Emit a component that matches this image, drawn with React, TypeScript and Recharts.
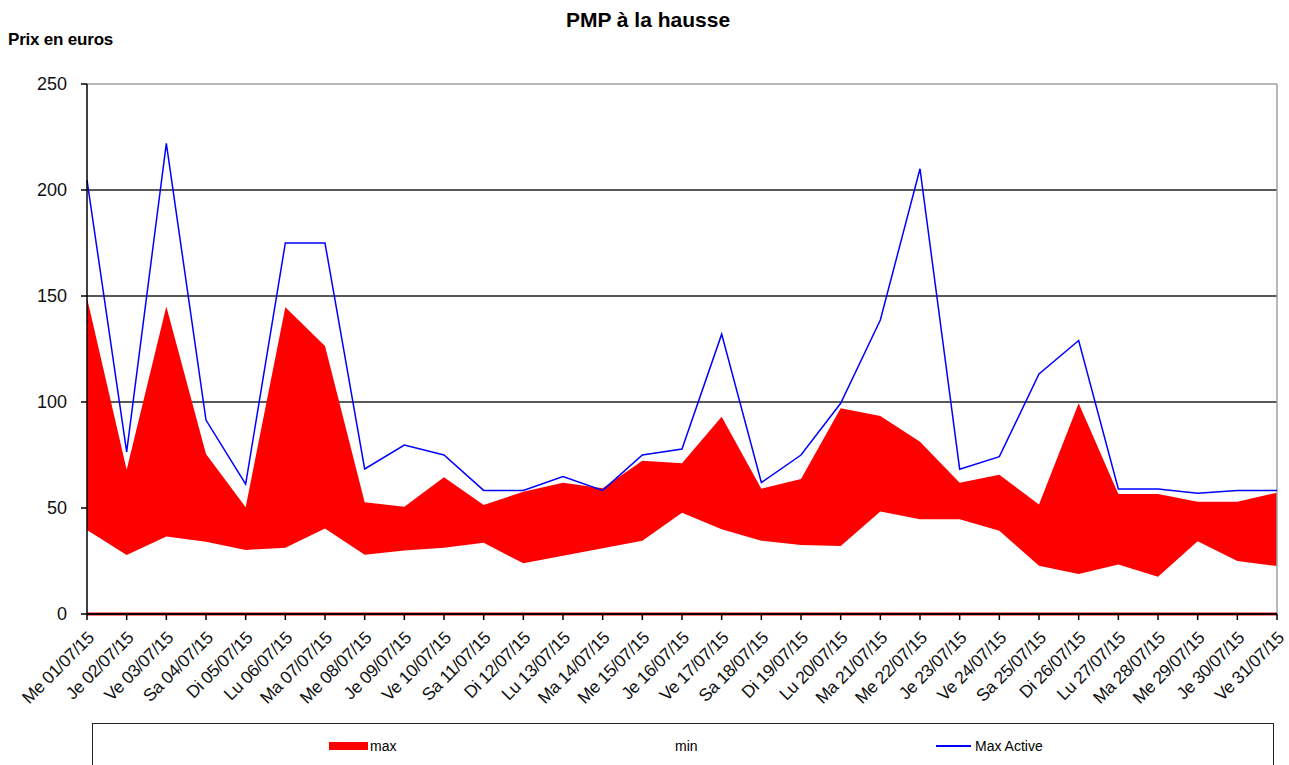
import {
  ComposedChart,
  Area,
  Line,
  XAxis,
  YAxis,
  CartesianGrid,
  ReferenceLine,
} from "recharts";

const days = [
  "Me 01/07/15", "Je 02/07/15", "Ve 03/07/15", "Sa 04/07/15", "Di 05/07/15",
  "Lu 06/07/15", "Ma 07/07/15", "Me 08/07/15", "Je 09/07/15", "Ve 10/07/15",
  "Sa 11/07/15", "Di 12/07/15", "Lu 13/07/15", "Ma 14/07/15", "Me 15/07/15",
  "Je 16/07/15", "Ve 17/07/15", "Sa 18/07/15", "Di 19/07/15", "Lu 20/07/15",
  "Ma 21/07/15", "Me 22/07/15", "Je 23/07/15", "Ve 24/07/15", "Sa 25/07/15",
  "Di 26/07/15", "Lu 27/07/15", "Ma 28/07/15", "Me 29/07/15", "Je 30/07/15",
  "Ve 31/07/15",
];

const maxVals = [
  149, 68, 145, 75.5, 50.3, 144.7, 126.4, 52.7, 50.6, 64.5, 51.4, 57.7, 61.9,
  59.3, 72.3, 71.1, 93.1, 59.1, 63.7, 97, 93.4, 81.3, 61.9, 65.7, 51.6, 99.4,
  56.6, 56.6, 53, 53, 57.2,
];

const minVals = [
  39.6, 27.8, 36.5, 34.1, 30.2, 31.3, 40.3, 28, 29.9, 31.3, 33.6, 23.9, 27.5,
  31, 34.6, 47.8, 40, 34.6, 32.5, 32.1, 48.4, 44.7, 44.7, 39.3, 22.8, 18.9,
  23.4, 17.6, 34.3, 25, 22.6,
];

const maxActive = [
  204.7, 76.5, 222, 91.5, 61.3, 175, 175, 68.4, 79.7, 75, 58.3, 58.3, 64.8,
  58.3, 75, 77.8, 132, 62, 75, 99.4, 138.7, 210, 68.3, 74.2, 113.2, 129, 59,
  59, 57, 58.2, 58.2,
];

const yTicks = [0, 50, 100, 150, 200, 250];

const data = days.map((day, i) => ({
  day,
  max: maxVals[i],
  min: minVals[i],
  active: maxActive[i],
}));

const FONT = '"Liberation Sans", Arial, sans-serif';

// rotated date labels, anchored at their end just under each tick
function DayTick({ x, y, payload }: any) {
  const px = x + 8;
  const py = y + 17;
  return (
    <text
      x={px}
      y={py}
      textAnchor="end"
      transform={`rotate(-45, ${px}, ${py})`}
      fontSize={17.5}
      fontFamily={FONT}
      letterSpacing={-0.4}
      fill="#111"
    >
      {payload.value}
    </text>
  );
}

export default function App() {
  return (
    <div
      style={{
        position: "absolute",
        left: 0,
        top: 0,
        width: 1289,
        height: 765,
        background: "#fff",
        overflow: "hidden",
        fontFamily: FONT,
      }}
    >
      <div
        style={{
          position: "absolute",
          left: 0,
          width: 1296,
          top: 9,
          textAlign: "center",
          fontSize: 21,
          lineHeight: "21px",
          fontWeight: "bold",
          color: "#000",
        }}
      >
        PMP à la hausse
      </div>
      <div
        style={{
          position: "absolute",
          left: 8,
          top: 31,
          fontSize: 17,
          lineHeight: "17px",
          fontWeight: "bold",
          letterSpacing: -0.2,
          color: "#000",
        }}
      >
        Prix en euros
      </div>

      <div style={{ position: "absolute", left: 0, top: 0 }}>
        <ComposedChart
          width={1289}
          height={765}
          data={data}
          margin={{ top: 84, right: 12, bottom: 51, left: 27 }}
        >
          <CartesianGrid
            vertical={false}
            horizontalValues={[50, 100, 150, 200]}
            stroke="#222"
            strokeWidth={1.5}
          />
          <XAxis
            dataKey="day"
            scale="point"
            padding={{ left: 0, right: 0 }}
            interval={0}
            height={100}
            tickSize={6}
            tick={<DayTick />}
            axisLine={{ stroke: "#000", strokeWidth: 1.5 }}
            tickLine={{ stroke: "#000", strokeWidth: 1.5 }}
          />
          <YAxis
            domain={[0, 250]}
            ticks={yTicks}
            width={60}
            tickSize={6}
            tickMargin={14}
            interval={0}
            tick={{ fontSize: 18, fill: "#111", fontFamily: FONT }}
            axisLine={{ stroke: "#000", strokeWidth: 1.5 }}
            tickLine={{ stroke: "#000", strokeWidth: 1.5 }}
          />
          <ReferenceLine y={250} stroke="#a0a0a0" strokeWidth={1.5} />
          <ReferenceLine x={days[days.length - 1]} stroke="#a0a0a0" strokeWidth={1.5} />
          <Area
            type="linear"
            dataKey="max"
            fill="#ff0000"
            fillOpacity={1}
            stroke="none"
            isAnimationActive={false}
            dot={false}
            activeDot={false}
          />
          <Area
            type="linear"
            dataKey="min"
            fill="#ffffff"
            fillOpacity={1}
            stroke="none"
            isAnimationActive={false}
            dot={false}
            activeDot={false}
          />
          <Line
            type="linear"
            dataKey="active"
            stroke="#0000ff"
            strokeWidth={1.5}
            dot={false}
            activeDot={false}
            isAnimationActive={false}
          />
          <ReferenceLine y={0} stroke="#ff0000" strokeWidth={3} />
          <ReferenceLine y={0} stroke="#000" strokeWidth={1.5} />
        </ComposedChart>
      </div>

      {/* legend box, cut by the bottom edge like the original */}
      <div
        style={{
          position: "absolute",
          left: 92,
          top: 723,
          width: 1182,
          height: 60,
          border: "1.5px solid #222",
          boxSizing: "border-box",
        }}
      />
      <div
        style={{
          position: "absolute",
          left: 329,
          top: 742,
          width: 39,
          height: 8,
          background: "#ff0000",
        }}
      />
      <div style={{ position: "absolute", left: 370, top: 738, fontSize: 14, lineHeight: "16px" }}>
        max
      </div>
      <div style={{ position: "absolute", left: 675, top: 738, fontSize: 14, lineHeight: "16px" }}>
        min
      </div>
      <div
        style={{
          position: "absolute",
          left: 936,
          top: 745,
          width: 35,
          height: 2,
          background: "#0000ff",
        }}
      />
      <div style={{ position: "absolute", left: 975, top: 738, fontSize: 14, lineHeight: "16px" }}>
        Max Active
      </div>
    </div>
  );
}
